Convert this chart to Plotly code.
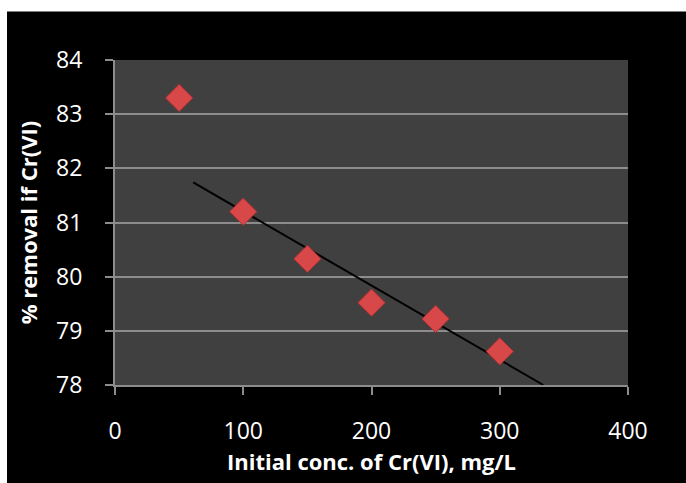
import plotly.graph_objects as go

# Data
conc = [50, 100, 150, 200, 250, 300]
removal = [83.3, 81.2, 80.33, 79.52, 79.22, 78.62]

# Linear trendline as drawn in the reference (endpoints)
trend_x = [61, 334]
trend_y = [81.74, 78.0]

x_ticks = [0, 100, 200, 300, 400]
y_ticks = [78, 79, 80, 81, 82, 83, 84]

fig = go.Figure()

fig.add_trace(go.Scatter(
    x=trend_x, y=trend_y, mode="lines",
    line=dict(color="black", width=2),
    showlegend=False, hoverinfo="skip",
))

fig.add_trace(go.Scatter(
    x=conc, y=removal, mode="markers",
    marker=dict(symbol="diamond", size=21, color="#d84848",
                line=dict(color="#a83030", width=1)),
    showlegend=False,
))

W, H = 686, 483
ml, mr, mt, mb = 115, 58, 60, 95
pw, ph = W - ml - mr, H - mt - mb

# white strips at top and left (outside the black frame)
fig.add_shape(type="rect", xref="paper", yref="paper",
              x0=-ml / pw - 0.05, x1=(W - ml) / pw + 0.05,
              y0=(H - mb - 11) / ph, y1=(H - mb + 60) / ph,
              fillcolor="white", line_width=0, layer="below")
fig.add_shape(type="rect", xref="paper", yref="paper",
              x0=-ml / pw - 0.05, x1=(7 - ml) / pw,
              y0=-mb / ph - 0.1, y1=(H - mb + 60) / ph,
              fillcolor="white", line_width=0, layer="below")

fig.update_layout(
    width=W, height=H,
    margin=dict(l=ml, r=mr, t=mt, b=mb),
    paper_bgcolor="black",
    plot_bgcolor="#404040",
    font=dict(family="Open Sans", color="white", size=23),
    xaxis=dict(
        range=[0, 400], tickvals=x_ticks,
        showgrid=False, zeroline=False,
        showline=True, linecolor="#8c8c8c", linewidth=2,
        ticks="outside", ticklen=8, tickcolor="#8c8c8c", tickwidth=2,
        ticklabelstandoff=16,
        tickfont=dict(size=23, color="white"),
        title=dict(text="<b>Initial conc. of Cr(VI), mg/L</b>",
                   font=dict(size=22, color="white"), standoff=10),
    ),
    yaxis=dict(
        range=[78, 84], tickvals=y_ticks,
        showgrid=True, gridcolor="#8c8c8c", gridwidth=2,
        zeroline=False,
        showline=True, linecolor="#8c8c8c", linewidth=2,
        ticks="outside", ticklen=8, tickcolor="#8c8c8c", tickwidth=2,
        ticklabelstandoff=18,
        tickfont=dict(size=23, color="white"),
        title=dict(text="<b>% removal if Cr(VI)</b>",
                   font=dict(size=22, color="white"), standoff=12),
    ),
)

fig.write_html("out.html")
